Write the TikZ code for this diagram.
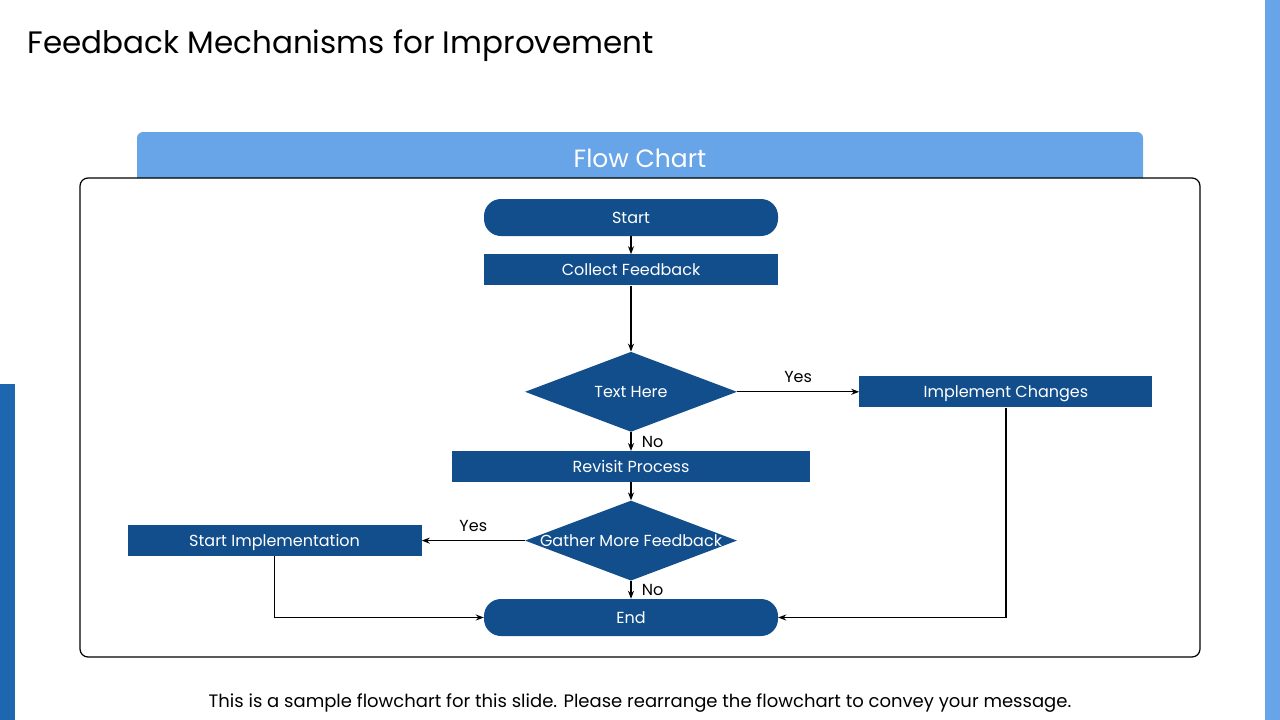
\documentclass[tikz,border=0pt]{standalone}
\usepackage{fontspec}
\setmainfont{Poppins}
\usetikzlibrary{shapes.geometric,arrows.meta,positioning}
\definecolor{flowblue}{RGB}{18,78,140}
\definecolor{tabblue}{RGB}{104,164,232}
\definecolor{sideblue}{RGB}{30,102,176}

\begin{document}
\begin{tikzpicture}[
    x=1pt, y=-1pt,
    font=\fontsize{16}{19}\selectfont,
    node distance=18pt,
    box/.style={fill=flowblue, text=white, minimum width=294pt, minimum height=31pt, inner sep=0pt, text height=11pt, text depth=0pt},
    pill/.style={box, rounded corners=17pt, minimum height=37pt},
    decision/.style={diamond, fill=flowblue, text=white, minimum width=212pt, minimum height=80pt, inner sep=0pt, text height=11pt, text depth=0pt},
    arr/.style={-{Stealth[length=8pt,width=6pt]}, line width=1.2pt}
]
\useasboundingbox (0,0) rectangle (1280,720);
\fill[tabblue] (1265,0) rectangle (1280,720);
\fill[sideblue] (0,384) rectangle (15,720);

\node[anchor=west, font=\fontsize{31}{37}\selectfont] (title) at (24,46) {Feedback Mechanisms for Improvement};

\fill[tabblue] (137,178) [rounded corners=6pt] -- (137,132) -- (1143,132) [sharp corners] -- (1143,178) -- cycle;
\node[text=white, font=\fontsize{25}{30}\selectfont] (tab) at (640,158) {Flow Chart};
\draw[rounded corners=8pt, line width=1.2pt] (80,178) rectangle (1200,657);

\node[pill] (start) at (631,217.5) {Start};
\node[box, below=18pt of start] (collect) {Collect Feedback};
\node[decision, below=66pt of collect] (check) {\makebox[0pt]{Text Here}};
\node[box, minimum width=293pt, right=122pt of check] (implement) {Implement Changes};
\node[box, minimum width=358pt, below=19pt of check] (revisit) {Revisit Process};
\node[decision, below=18pt of revisit] (gather) {\makebox[0pt]{Gather More Feedback}};
\node[box, left=103pt of gather] (startimpl) {Start Implementation};
\node[pill, below=18pt of gather] (finish) {End};

\draw[arr] (start) -- (collect);
\draw[arr] (collect) -- (check);
\draw[arr] (check) -- node[above=5pt] {Yes} (implement);
\draw[arr] (check) -- node[right=7pt] {No} (revisit);
\draw[arr] (revisit) -- (gather);
\draw[arr] (gather) -- node[above=5pt] {Yes} (startimpl);
\draw[arr] (gather) -- node[right=7pt] {No} (finish);
\draw[arr] (startimpl) |- (finish);
\draw[arr] (implement) |- (finish);

\node[font=\fontsize{18}{22}\selectfont] (note) at (640,703) {This is a sample flowchart for this slide. Please rearrange the flowchart to convey your message.};
\end{tikzpicture}
\end{document}
